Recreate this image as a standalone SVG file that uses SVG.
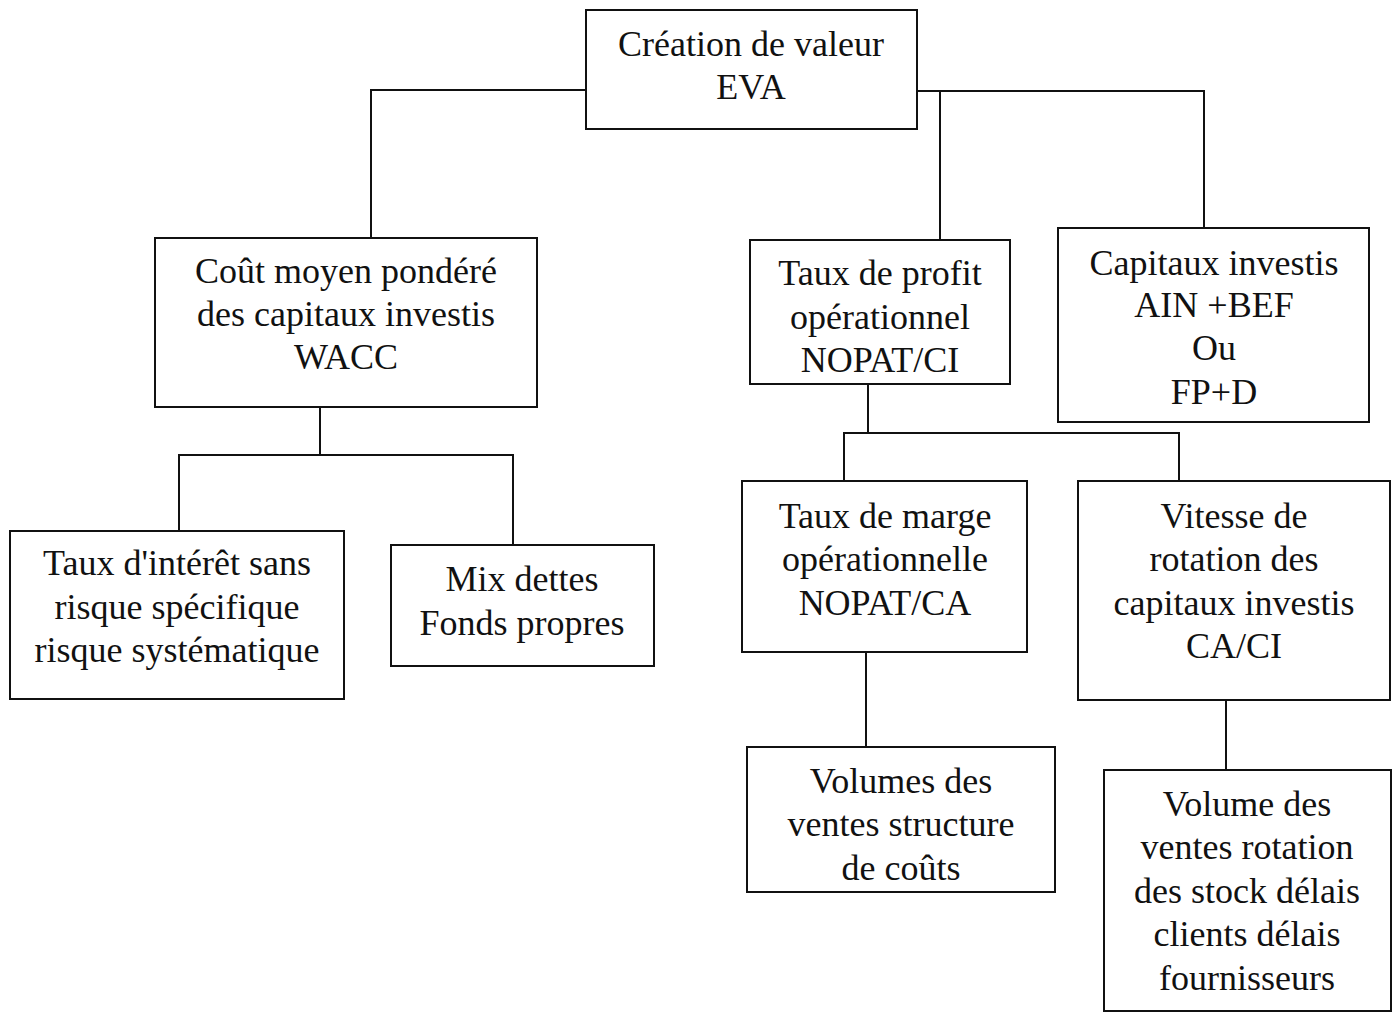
<svg xmlns="http://www.w3.org/2000/svg" width="1396" height="1013" viewBox="0 0 1396 1013">
<style>
.box{fill:#fff;stroke:#111;stroke-width:2}
.t{font-family:"Liberation Serif","Times New Roman",serif;font-size:36px;fill:#111;text-anchor:middle}
.c{fill:none;stroke:#111;stroke-width:2}
</style>
<rect width="1396" height="1013" fill="#fff"/>
<g id="connectors">
<path class="c" d="M586 90 H371 V238"/>
<path class="c" d="M917 91 H1204 V228"/>
<path class="c" d="M940 91 V240"/>
<path class="c" d="M320 407 V455"/>
<path class="c" d="M179 531 V455 H513 V545"/>
<path class="c" d="M868 384 V433"/>
<path class="c" d="M844 481 V433 H1179 V481"/>
<path class="c" d="M866 652 V747"/>
<path class="c" d="M1226 700 V770"/>
</g>
<g id="n-eva">
<rect class="box" x="586" y="10" width="331" height="119"/>
<text class="t" x="751" y="56">Création de valeur</text>
<text class="t" x="751" y="99">EVA</text>
</g>
<g id="n-wacc">
<rect class="box" x="155" y="238" width="382" height="169"/>
<text class="t" x="346" y="283">Coût moyen pondéré</text>
<text class="t" x="346" y="326">des capitaux investis</text>
<text class="t" x="346" y="369">WACC</text>
</g>
<g id="n-taux-interet">
<rect class="box" x="10" y="531" width="334" height="168"/>
<text class="t" x="177" y="575">Taux d'intérêt sans</text>
<text class="t" x="177" y="619">risque spécifique</text>
<text class="t" x="177" y="662">risque systématique</text>
</g>
<g id="n-mix">
<rect class="box" x="391" y="545" width="263" height="121"/>
<text class="t" x="522" y="591">Mix dettes</text>
<text class="t" x="522" y="635">Fonds propres</text>
</g>
<g id="n-profit">
<rect class="box" x="750" y="240" width="260" height="144"/>
<text class="t" x="880" y="285">Taux de profit</text>
<text class="t" x="880" y="329">opérationnel</text>
<text class="t" x="880" y="372">NOPAT/CI</text>
</g>
<g id="n-capitaux">
<rect class="box" x="1058" y="228" width="311" height="194"/>
<text class="t" x="1214" y="275">Capitaux investis</text>
<text class="t" x="1214" y="317">AIN +BEF</text>
<text class="t" x="1214" y="360">Ou</text>
<text class="t" x="1214" y="404">FP+D</text>
</g>
<g id="n-marge">
<rect class="box" x="742" y="481" width="285" height="171"/>
<text class="t" x="885" y="528">Taux de marge</text>
<text class="t" x="885" y="571">opérationnelle</text>
<text class="t" x="885" y="615">NOPAT/CA</text>
</g>
<g id="n-vitesse">
<rect class="box" x="1078" y="481" width="312" height="219"/>
<text class="t" x="1234" y="528">Vitesse de</text>
<text class="t" x="1234" y="571">rotation des</text>
<text class="t" x="1234" y="615">capitaux investis</text>
<text class="t" x="1234" y="658">CA/CI</text>
</g>
<g id="n-volumes">
<rect class="box" x="747" y="747" width="308" height="145"/>
<text class="t" x="901" y="793">Volumes des</text>
<text class="t" x="901" y="836">ventes structure</text>
<text class="t" x="901" y="880">de coûts</text>
</g>
<g id="n-volume-rotation">
<rect class="box" x="1104" y="770" width="287" height="241"/>
<text class="t" x="1247" y="816">Volume des</text>
<text class="t" x="1247" y="859">ventes rotation</text>
<text class="t" x="1247" y="903">des stock délais</text>
<text class="t" x="1247" y="946">clients délais</text>
<text class="t" x="1247" y="990">fournisseurs</text>
</g>
</svg>
